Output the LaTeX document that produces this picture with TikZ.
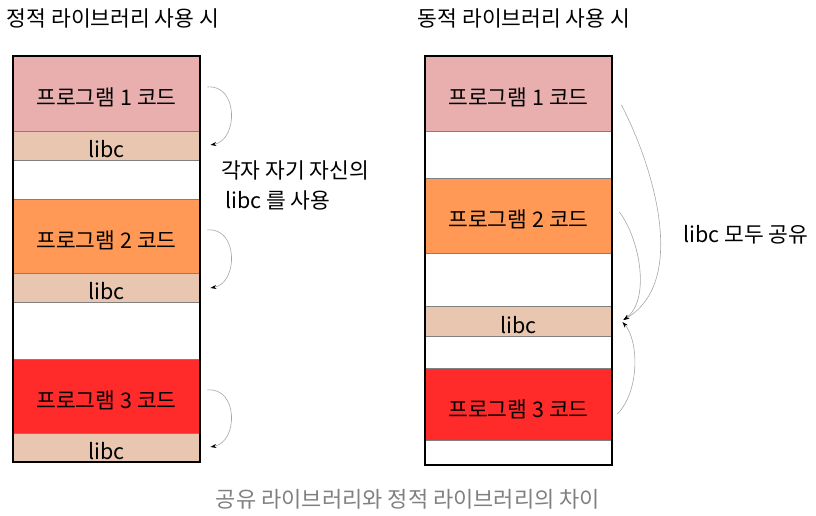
\documentclass[tikz,border=0pt]{standalone}
\usepackage{fontspec}
\setmainfont{Noto Sans CJK KR}
\usetikzlibrary{arrows.meta}
\definecolor{pone}{HTML}{E9AFAF}
\definecolor{ptwo}{HTML}{FF9955}
\definecolor{pthree}{HTML}{FF2A2A}
\definecolor{lib}{HTML}{E9C6AF}
\definecolor{sep}{HTML}{808080}
\definecolor{capt}{HTML}{808080}
\begin{document}
\begin{tikzpicture}[x=1pt,y=-1pt,
  blk/.style={draw=sep,line width=0.8pt,inner sep=0pt,minimum width=187pt,text height=24pt,text depth=0pt,font=\fontsize{21.5}{24}\selectfont},
  outer/.style={draw=black,line width=2pt},
  arr/.style={draw=gray!70,line width=0.6pt,-{Stealth[length=6pt,width=4pt,black]}},
  lbl/.style={font=\fontsize{21.5}{24}\selectfont,inner sep=0pt},
]
\useasboundingbox (0,0) rectangle (816,516);
% left column
\node[blk,fill=pone,minimum height=75pt] (a1) at (106.5,93.5) {프로그램 1 코드};
\node[blk,fill=lib,minimum height=29pt] (al1) at (106.5,145.5) {libc};
\node[blk,fill=white,minimum height=39pt] (aw1) at (106.5,179.5) {};
\node[blk,fill=ptwo,minimum height=74pt] (a2) at (106.5,236) {프로그램 2 코드};
\node[blk,fill=lib,minimum height=29pt] (al2) at (106.5,287.5) {libc};
\node[blk,fill=white,minimum height=57pt] (aw2) at (106.5,330.5) {};
\node[blk,fill=pthree,minimum height=74pt] (a3) at (106.5,396) {프로그램 3 코드};
\node[blk,fill=lib,minimum height=29pt] (al3) at (106.5,447.5) {libc};
\draw[outer] (a1.north west) rectangle (al3.south east);
% right column
\node[blk,fill=pone,minimum height=75pt] (b1) at (518.5,93.5) {프로그램 1 코드};
\node[blk,fill=white,minimum height=47pt] (bw1) at (518.5,154.5) {};
\node[blk,fill=ptwo,minimum height=75pt] (b2) at (518.5,215.5) {프로그램 2 코드};
\node[blk,fill=white,minimum height=53pt] (bw2) at (518.5,279.5) {};
\node[blk,fill=lib,minimum height=30pt] (bl) at (518.5,321) {libc};
\node[blk,fill=white,minimum height=32pt] (bw3) at (518.5,352) {};
\node[blk,fill=pthree,minimum height=74pt] (b3) at (518.5,405) {프로그램 3 코드};
\node[blk,fill=white,minimum height=21pt] (bw4) at (518.5,452.5) {};
\draw[outer] (b1.north west) rectangle (bw4.south east);
% titles
\node[lbl] (t1) at (113,18) {정적 라이브러리 사용 시};
\node[lbl] (t2) at (524,18) {동적 라이브러리 사용 시};
\node[lbl,text=capt,font=\fontsize{22}{24}\selectfont] (cap) at (408,499) {공유 라이브러리와 정적 라이브러리의 차이};
\node[lbl,anchor=west] (n1) at (221,170) {각자 자기 자신의};
\node[lbl,anchor=west] (n2) at (225,200) {libc 를 사용};
\node[lbl,anchor=west] (n3) at (683,235) {libc 모두 공유};
% left arrows
\draw[arr] ([xshift=7pt,yshift=6.5pt]a1.east) .. controls +(31,-3) and +(28,-5) .. ([xshift=10pt,yshift=0.5pt]al1.east);
\draw[arr] ([xshift=7pt,yshift=6pt]a2.east) .. controls +(31,-3) and +(28,-5) .. ([xshift=10pt,yshift=-0.5pt]al2.east);
\draw[arr] ([xshift=7pt,yshift=6pt]a3.east) .. controls +(31,-3) and +(28,-5) .. ([xshift=10pt,yshift=0.5pt]al3.east);
% right arrows
\draw[arr] ([xshift=9pt,yshift=-11.5pt]b1.east) .. controls +(29,55) and +(67,-40) .. ([xshift=11pt,yshift=1pt]bl.east);
\draw[arr] ([xshift=7pt,yshift=3.5pt]b2.east) .. controls +(21,28) and +(27,-20) .. ([xshift=11pt,yshift=1pt]bl.east);
\draw[arr] ([xshift=5pt,yshift=-9pt]b3.east) .. controls +(23,-24) and +(16,18) .. ([xshift=10pt,yshift=-1pt]bl.east);
\end{tikzpicture}
\end{document}
